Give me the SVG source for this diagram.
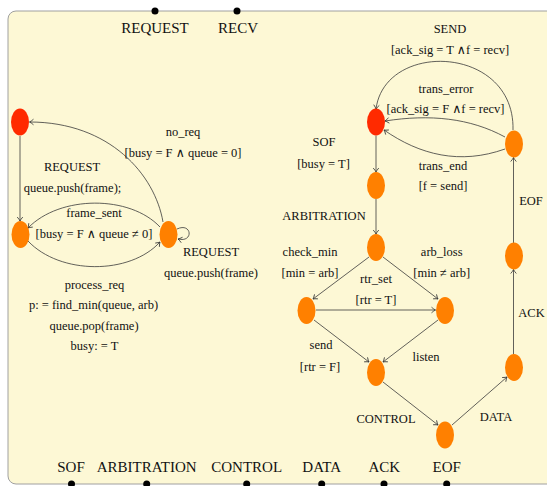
<svg xmlns="http://www.w3.org/2000/svg" width="547" height="486" viewBox="0 0 547 486">
  <defs>
    <marker id="arr" viewBox="-6 -4 8 8" markerWidth="8" markerHeight="8" refX="0" refY="0" orient="auto" markerUnits="userSpaceOnUse">
      <path d="M-4,-2.8 Q-1.5,-0.6 0,0 Q-1.5,0.6 -4,2.8" fill="none" stroke="#333" stroke-width="0.8"/>
    </marker>
  </defs>
  <style>
    .panel { fill: #fdf8d5; stroke: #a0a0a0; stroke-width: 1; }
    .red { fill: #ff2a00; }
    .orange { fill: #ff8000; }
    .edge { fill: none; stroke: #3a3a3a; stroke-width: 0.8; marker-end: url(#arr); }
    .port { fill: #000; }
    text { font-family: "Liberation Serif", "DejaVu Serif", serif; fill: #111; text-anchor: middle; }
    .lbl { font-size: 12.5px; }
    .big { font-size: 15px; }
  </style>

  <!-- container -->
  <rect class="panel" x="8" y="11" width="560" height="473" rx="8"/>

  <!-- ports on the container border -->
  <g id="ports">
    <circle class="port" cx="155" cy="11" r="3.5"/>
    <circle class="port" cx="237" cy="11" r="3.5"/>
    <circle class="port" cx="71.5" cy="484" r="3.5"/>
    <circle class="port" cx="146.7" cy="484" r="3.5"/>
    <circle class="port" cx="246.7" cy="484" r="3.5"/>
    <circle class="port" cx="321.7" cy="484" r="3.5"/>
    <circle class="port" cx="384" cy="484" r="3.5"/>
    <circle class="port" cx="446.7" cy="484" r="3.5"/>
    <text class="big" x="155" y="33">REQUEST</text>
    <text class="big" x="238" y="33">RECV</text>
    <text class="big" x="71" y="472">SOF</text>
    <text class="big" x="146.7" y="472">ARBITRATION</text>
    <text class="big" x="246.7" y="472">CONTROL</text>
    <text class="big" x="321.7" y="472">DATA</text>
    <text class="big" x="384.3" y="472">ACK</text>
    <text class="big" x="446.7" y="472">EOF</text>
  </g>

  <!-- connectors -->
  <g id="connectors">
    <!-- receiver side -->
    <path class="edge" d="M20,136 L20,221"/>
    <path class="edge" d="M163,222 C155,175 110,122 29.5,122"/>
    <path class="edge" d="M160,227 C130,195 60,195 28,228"/>
    <path class="edge" d="M28,241 C60,275 130,275 160,242"/>
    <path class="edge" d="M177,229 C192,222 194,243 178,239"/>
    <!-- sender side -->
    <path class="edge" d="M513,130 C515,45 385,40 376,109"/>
    <path class="edge" d="M505,137 C470,118 430,114 385,121"/>
    <path class="edge" d="M505,149 C460,165 420,155 384,130"/>
    <path class="edge" d="M376,135.5 L376,172"/>
    <path class="edge" d="M376,199 L376,234"/>
    <path class="edge" d="M369,257 L313,299"/>
    <path class="edge" d="M383,257 L438,299"/>
    <path class="edge" d="M316,310 L435.5,310"/>
    <path class="edge" d="M314,320 L369,362"/>
    <path class="edge" d="M438,320 L383,362"/>
    <path class="edge" d="M383,382 L438,425"/>
    <path class="edge" d="M452,425 L507,377"/>
    <path class="edge" d="M513.5,354 L513.5,269.5"/>
    <path class="edge" d="M513.5,243 L513.5,157.5"/>
  </g>

  <!-- receiver states -->
  <g id="r_idle"><ellipse class="red" cx="20" cy="122" rx="9" ry="13.5"/></g>
  <g id="r_wait"><ellipse class="orange" cx="20.5" cy="234.5" rx="9" ry="13.5"/></g>
  <g id="r_busy"><ellipse class="orange" cx="168.5" cy="234.5" rx="9" ry="13.5"/></g>

  <!-- sender states -->
  <g id="s_idle"><ellipse class="red" cx="376" cy="122" rx="9" ry="13.5"/></g>
  <g id="s_done"><ellipse class="orange" cx="514" cy="144" rx="9" ry="13.5"/></g>
  <g id="s_sof"><ellipse class="orange" cx="376" cy="185.5" rx="9" ry="13.5"/></g>
  <g id="s_arb"><ellipse class="orange" cx="376" cy="247.5" rx="9" ry="13.5"/></g>
  <g id="s_win"><ellipse class="orange" cx="306.5" cy="310.5" rx="9" ry="13.5"/></g>
  <g id="s_lose"><ellipse class="orange" cx="445" cy="310.5" rx="9" ry="13.5"/></g>
  <g id="s_ctrl"><ellipse class="orange" cx="376" cy="372.5" rx="9" ry="13.5"/></g>
  <g id="s_data"><ellipse class="orange" cx="445" cy="435" rx="9" ry="13.5"/></g>
  <g id="s_ack"><ellipse class="orange" cx="514" cy="367.5" rx="9" ry="13.5"/></g>
  <g id="s_eof"><ellipse class="orange" cx="514" cy="256" rx="9" ry="13.5"/></g>

  <!-- transition labels -->
  <g id="labels">
    <text class="lbl" x="183" y="136">no_req</text>
    <text class="lbl" x="183" y="157">[busy = F ∧ queue = 0]</text>
    <text class="lbl" x="72" y="171">REQUEST</text>
    <text class="lbl" x="72.5" y="192">queue.push(frame);</text>
    <text class="lbl" x="94" y="217">frame_sent</text>
    <text class="lbl" x="94" y="238">[busy = F ∧ queue ≠ 0]</text>
    <text class="lbl" x="211" y="256">REQUEST</text>
    <text class="lbl" x="211" y="277">queue.push(frame)</text>
    <text class="lbl" x="94.5" y="289">process_req</text>
    <text class="lbl" x="93.5" y="309">p: = find_min(queue, arb)</text>
    <text class="lbl" x="94" y="330">queue.pop(frame)</text>
    <text class="lbl" x="94.5" y="350">busy: = T</text>

    <text class="lbl" x="450" y="33">SEND</text>
    <text class="lbl" x="450" y="54">[ack_sig = T ∧f = recv]</text>
    <text class="lbl" x="446" y="93">trans_error</text>
    <text class="lbl" x="445.5" y="113">[ack_sig = F ∧f = recv]</text>
    <text class="lbl" x="324" y="146">SOF</text>
    <text class="lbl" x="323.5" y="168">[busy = T]</text>
    <text class="lbl" x="443" y="170">trans_end</text>
    <text class="lbl" x="443" y="190">[f = send]</text>
    <text class="lbl" x="324" y="220">ARBITRATION</text>
    <text class="lbl" x="531" y="205">EOF</text>
    <text class="lbl" x="310" y="256">check_min</text>
    <text class="lbl" x="310" y="277">[min = arb]</text>
    <text class="lbl" x="441.7" y="256">arb_loss</text>
    <text class="lbl" x="441.7" y="277">[min ≠ arb]</text>
    <text class="lbl" x="376" y="283">rtr_set</text>
    <text class="lbl" x="376" y="304">[rtr = T]</text>
    <text class="lbl" x="531.5" y="317">ACK</text>
    <text class="lbl" x="321" y="349">send</text>
    <text class="lbl" x="320" y="371">[rtr = F]</text>
    <text class="lbl" x="426" y="361">listen</text>
    <text class="lbl" x="386" y="423">CONTROL</text>
    <text class="lbl" x="496" y="421">DATA</text>
  </g>
</svg>
